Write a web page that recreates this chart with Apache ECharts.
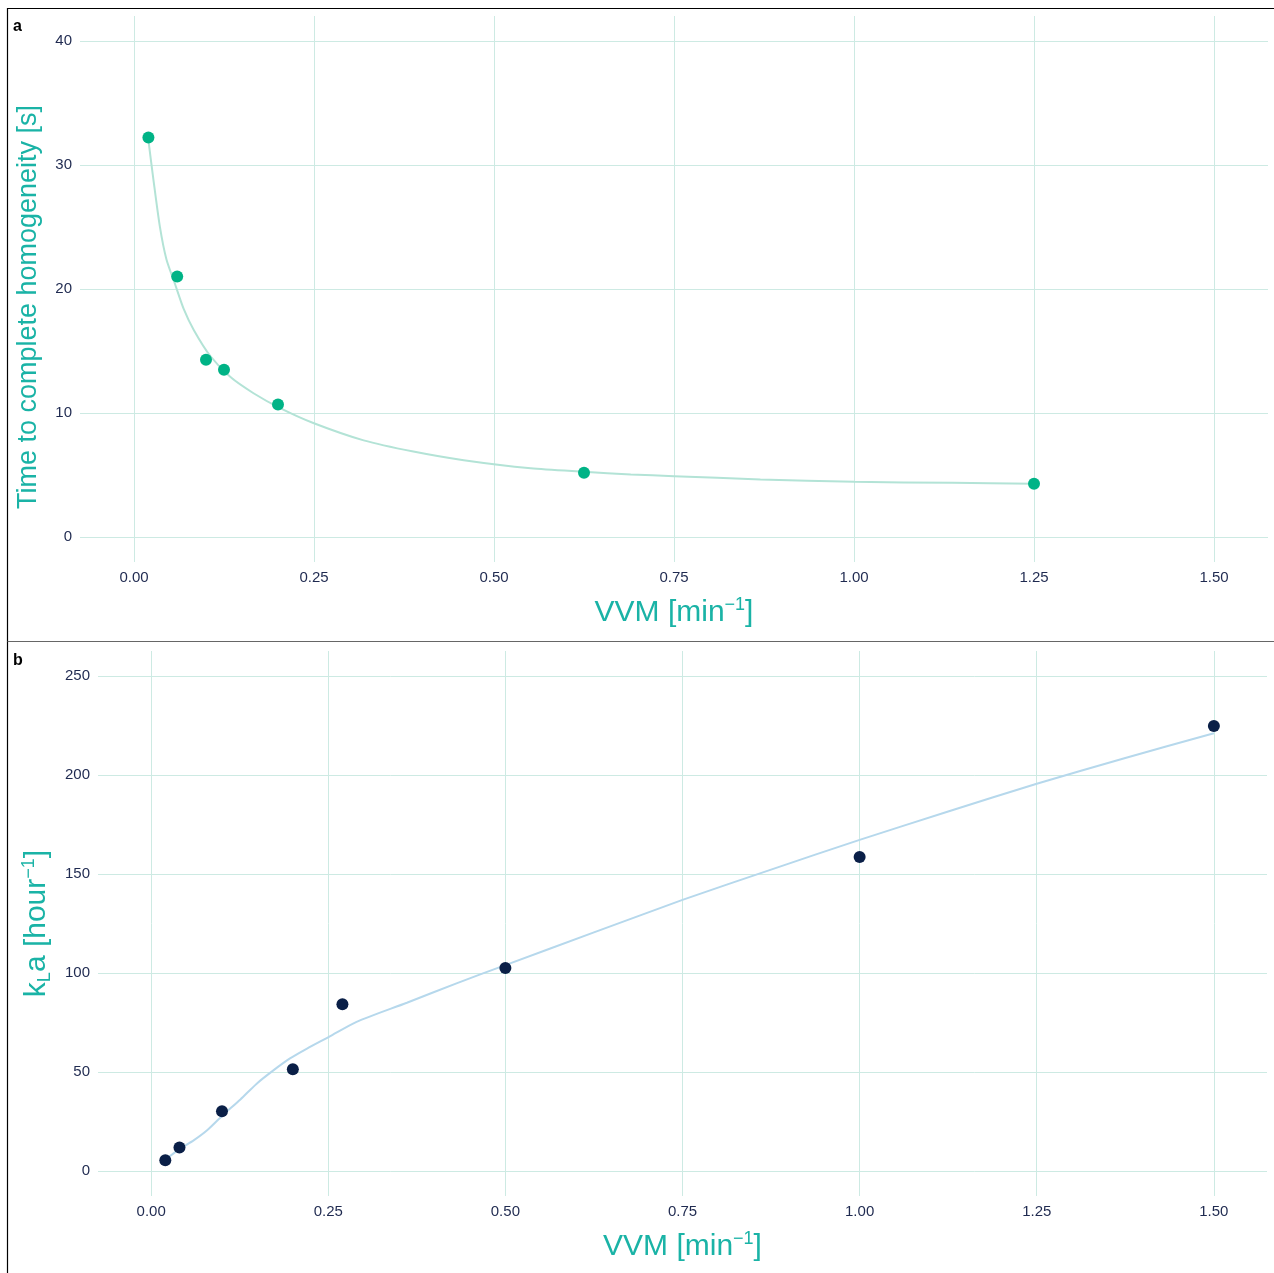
<!DOCTYPE html>
<html>
<head>
<meta charset="utf-8">
<script src="https://cdn.jsdelivr.net/npm/echarts@6/dist/echarts.min.js"></script>
<style>
html,body{margin:0;padding:0;background:#fff;}
#chart{width:1274px;height:1273px;}
</style>
</head>
<body>
<div id="chart"></div>
<script>
// ---- Panel a: mixing time vs VVM ----
const vvmA = [0.02, 0.06, 0.10, 0.125, 0.20, 0.625, 1.25];
const timeA = [32.2, 21.0, 14.3, 13.5, 10.7, 5.2, 4.3];
// smoothed fit curve
const fitXA = [0.02, 0.027, 0.036, 0.045, 0.057, 0.069, 0.083, 0.106, 0.134, 0.166, 0.203, 0.249, 0.319, 0.388, 0.458, 0.551, 0.625, 0.69, 0.75, 0.87, 1.0, 1.137, 1.25];
const fitYA = [32.0, 28.8, 25.0, 22.4, 20.4, 18.4, 16.7, 14.6, 12.9, 11.6, 10.4, 9.2, 7.8, 6.9, 6.2, 5.55, 5.27, 5.05, 4.92, 4.65, 4.46, 4.38, 4.30];

// ---- Panel b: kLa vs VVM ----
const vvmB = [0.02, 0.04, 0.10, 0.20, 0.27, 0.50, 1.00, 1.50];
const klaB = [5.5, 12.0, 30.3, 51.5, 84.3, 102.5, 158.6, 224.7];
const fitXB = [0.022, 0.041, 0.060, 0.079, 0.100, 0.126, 0.149, 0.173, 0.196, 0.220, 0.251, 0.290, 0.361, 0.431, 0.50, 0.625, 0.75, 0.875, 1.0, 1.125, 1.25, 1.375, 1.5];
const fitYB = [6.4, 11.4, 15.6, 20.7, 27.9, 36.2, 44.2, 51.0, 56.9, 61.9, 67.8, 75.4, 85.0, 94.8, 104.0, 120.5, 136.9, 152.2, 167.2, 181.5, 195.5, 208.5, 221.0];

// ---- tick labels ----
const xTicks = [0, 0.25, 0.5, 0.75, 1.0, 1.25, 1.5];
const yTicksA = [0, 10, 20, 30, 40];
const yTicksB = [0, 50, 100, 150, 200, 250];

const FONT = 'Liberation Sans';
const titleColor = '#1ab3a6';
const tickColor = '#1f2a50';
const gridColor = '#cdeae3';

function pairs(xs, ys){ return xs.map((x,i)=>[x, ys[i]]); }

function rich(size){
  return {
    a: {fontSize: size, color: titleColor, fontFamily: FONT},
    sup: {fontSize: 18, color: titleColor, fontFamily: FONT, verticalAlign: 'top', padding:[0,0,16,0]},
    sub: {fontSize: 18, color: titleColor, fontFamily: FONT, verticalAlign: 'bottom', padding:[10,0,0,0]}
  };
}

function xAxis(gridIndex, gap){
  return {
    type: 'value', gridIndex: gridIndex,
    min: -0.075, max: 1.575,
    name: '{a|VVM [min}{sup|−1}{a|]}',
    nameLocation: 'middle', nameGap: gap,
    nameTextStyle: {rich: rich(30)},
    axisLine: {show: false},
    axisTick: {show: false, customValues: xTicks},
    axisLabel: {customValues: xTicks, color: tickColor, fontSize: 15, fontFamily: FONT, margin: 8,
      formatter: v => v.toFixed(2)},
    splitLine: {show: true, lineStyle: {color: gridColor, width: 1}}
  };
}

function yAxis(gridIndex, min, max, ticks, name, gap, size, pad){
  return {
    type: 'value', gridIndex: gridIndex,
    min: min, max: max,
    name: name,
    nameLocation: 'middle', nameGap: gap, nameRotate: 90,
    nameTextStyle: {rich: rich(size), padding: pad},
    axisLine: {show: false},
    axisTick: {show: false, customValues: ticks},
    axisLabel: {customValues: ticks, color: tickColor, fontSize: 15, fontFamily: FONT, margin: 8},
    splitLine: {show: true, lineStyle: {color: gridColor, width: 1}}
  };
}

const chart = echarts.init(document.getElementById('chart'), null, {renderer: 'canvas'});
chart.setOption({
  animation: false,
  backgroundColor: '#ffffff',
  grid: [
    {left: 80, right: 6, top: 16, bottom: 711},
    {left: 98, right: 7, top: 651, bottom: 77}
  ],
  xAxis: [xAxis(0, 34), xAxis(1, 34)],
  yAxis: [
    yAxis(0, -2, 42, yTicksA, '{a|Time to complete homogeneity [s]}', 38, 27, [0, 36, 0, 0]),
    yAxis(1, -12.5, 262.5, yTicksB, '{a|k}{sub|L}{a|a [hour}{sup|−1}{a|]}', 43, 30, [0, 0, 0, 0])
  ],
  graphic: [
    {type: 'line', shape: {x1: 7.5, y1: 8.5, x2: 1274, y2: 8.5}, style: {stroke: '#000', lineWidth: 1.2}},
    {type: 'line', shape: {x1: 7.5, y1: 8, x2: 7.5, y2: 1273}, style: {stroke: '#000', lineWidth: 1.2}},
    {type: 'line', shape: {x1: 7.5, y1: 641.5, x2: 1274, y2: 641.5}, style: {stroke: '#666', lineWidth: 1.2}},
    {type: 'text', left: 13, top: 19, style: {text: 'a', font: 'bold 16px ' + FONT, fill: '#000'}},
    {type: 'text', left: 13, top: 653, style: {text: 'b', font: 'bold 16px ' + FONT, fill: '#000'}}
  ],
  series: [
    {type: 'line', xAxisIndex: 0, yAxisIndex: 0, data: pairs(fitXA, fitYA), smooth: 0.25, showSymbol: false,
      lineStyle: {color: '#b3e3d6', width: 2}, z: 2},
    {type: 'scatter', xAxisIndex: 0, yAxisIndex: 0, data: pairs(vvmA, timeA), symbolSize: 12,
      itemStyle: {color: '#00b386', opacity: 1}, z: 3},
    {type: 'line', xAxisIndex: 1, yAxisIndex: 1, data: pairs(fitXB, fitYB), smooth: 0.25, showSymbol: false,
      lineStyle: {color: '#b6d8ec', width: 2}, z: 2},
    {type: 'scatter', xAxisIndex: 1, yAxisIndex: 1, data: pairs(vvmB, klaB), symbolSize: 12,
      itemStyle: {color: '#0a1f47', opacity: 1}, z: 3}
  ]
});
</script>
</body>
</html>
